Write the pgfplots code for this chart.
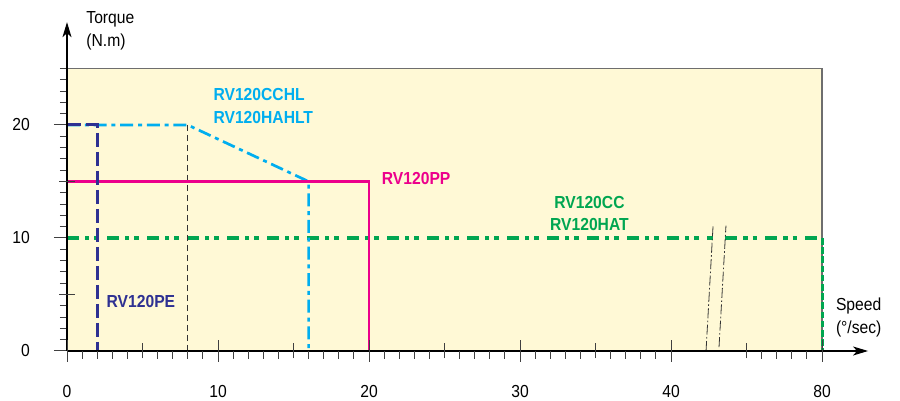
\documentclass[border=0pt]{standalone}
\usepackage{pgfplots}
\pgfplotsset{compat=1.18}
\usetikzlibrary{arrows.meta}
\usepackage{fontspec}
\setmainfont{Liberation Sans}[FakeStretch=0.9]

\definecolor{bgyellow}{RGB}{255,249,214}
\definecolor{framegray}{RGB}{110,110,110}
\definecolor{peblue}{RGB}{46,49,146}
\definecolor{hlcyan}{RGB}{0,174,239}
\definecolor{ppmag}{RGB}{236,0,140}
\definecolor{ccgreen}{RGB}{0,166,81}

% one axis unit = 15.1px in x, 11.3px in y; 1px = 0.5pt
\pgfplotsset{
  base/.style={
    at={(0,0)}, anchor=origin,
    x=7.55pt, y=5.65pt,
    xmin=0, xmax=53.05, ymin=0, ymax=29.1,
    clip=false,
    /pgf/number format/assume math mode=true,
    tick style={black!75, line width=0.5pt},
    font=\fontsize{8.7}{10.4}\selectfont,
  },
}
\tikzset{
  lbl/.style={anchor=base west, inner sep=0pt, font=\fontsize{8.7}{10.4}\selectfont\bfseries},
  greendash/.style={ccgreen, line width=1.6pt,
    dash pattern=on 5.8pt off 3.2pt on 2.2pt off 2.4pt on 2.2pt off 4.2pt},
  breakline/.style={black!80, line width=0.4pt, dash pattern=on 5pt off 1.2pt on 0.8pt off 1.2pt},
}

\begin{document}
\begin{tikzpicture}
\path[use as bounding box] (-33.5pt,-25pt) rectangle (416.5pt,175.5pt);

% main axis: background, curves, y ticks, arrows
\begin{axis}[base,
  axis lines=left,
  axis line style={line width=0.6pt, -{Stealth[length=7.5pt,width=4.5pt,inset=2pt]}},
  axis on top,
  xtick=\empty,
  ytick={0,10,20},
  minor ytick={1,2,3,4,5,6,7,8,9,11,12,13,14,15,16,17,18,19,21,22,23,24,25},
  ytick align=outside,
  major tick length=6.5pt, minor tick length=3.5pt,
  extra y ticks={5,15}, extra y tick labels={},
  extra y tick style={ytick align=center, major tick length=7.5pt},
  yticklabel style={inner sep=0pt, anchor=east, xshift=0.6pt},
  yticklabel shift=12.5pt,
]
\addplot[fill=bgyellow, draw=none] coordinates {(0,0) (0,25) (50,25) (50,0)} -- cycle;
\addplot[framegray, line width=0.75pt] coordinates {(0,25) (50,25) (50,0)};

% RV120CC / RV120HAT
\addplot[greendash] coordinates {(0,10) (42.75,10)};
\addplot[greendash] coordinates {(43.6,10) (50,10)};
\addplot[ccgreen, line width=1.5pt, dash pattern=on 3.3pt off 1.3pt] coordinates {(50,10) (50,0)};

% guide line and axis break
\addplot[black!80, line width=0.4pt, dash pattern=on 3pt off 2pt] coordinates {(8,20) (8,0)};
\addplot[breakline] coordinates {(42.32,0) (42.79,11.2)};
\addplot[breakline] coordinates {(43.18,0.35) (43.64,11.1)};

% RV120CCHL / RV120HAHLT
\addplot[hlcyan, line width=1.35pt, dash pattern=on 6.5pt off 2.4pt on 2pt off 2.4pt]
  coordinates {(0,20) (8,20) (16,15) (16,0)};
% RV120PP
\addplot[ppmag, line width=1.2pt] coordinates {(0,15) (20,15) (20,0)};
% RV120PE
\addplot[peblue, line width=1.5pt, dash pattern=on 7pt off 2.5pt] coordinates {(0,20) (2,20) (2,0)};

\node[lbl, text=hlcyan] at (axis cs:9.68,22.15) {RV120CCHL};
\node[lbl, text=hlcyan] at (axis cs:9.68,20.09) {RV120HAHLT};
\node[lbl, text=ppmag] at (axis cs:20.83,14.69) {RV120PP};
\node[lbl, text=ccgreen, anchor=base] at (axis cs:34.6,12.65) {RV120CC};
\node[lbl, text=ccgreen, anchor=base] at (axis cs:34.6,10.7) {RV120HAT};
\node[lbl, text=peblue] at (axis cs:2.6,3.89) {RV120PE};

\node[anchor=base west, inner sep=0pt] at (axis cs:1.26,28.94) {Torque};
\node[anchor=base west, inner sep=0pt] at (axis cs:1.26,26.93) {(N.m)};
\node[anchor=base west, inner sep=0pt] at (axis cs:50.9,3.57) {Speed};
\node[anchor=base west, inner sep=0pt] at (axis cs:50.9,1.56) {(°/sec)};
\end{axis}

% x ticks every 10 (labelled) and every 5
\begin{axis}[base,
  axis x line=bottom, axis y line=none,
  axis line style={draw=none},
  xtick={0,10,20,30,40,50}, xticklabels={0,10,20,30,40,80},
  minor xtick={5,15,25,35,45},
  xtick align=center,
  major tick length=11pt, minor tick length=7.5pt,
  xticklabel style={inner sep=0pt, anchor=north},
  xticklabel shift=11.5pt,
]
\end{axis}

% small x ticks every unit, broken between 40 and 45
\begin{axis}[base,
  axis x line=bottom, axis y line=none,
  axis line style={draw=none},
  xtick={1,2,3,4,6,7,8,9,11,12,13,14,16,17,18,19,21,22,23,24,26,27,28,29,31,32,33,34,36,37,38,39,46,47,48,49},
  xticklabels={},
  xtick align=outside,
  major tick length=4pt,
]
\end{axis}
\end{tikzpicture}
\end{document}
